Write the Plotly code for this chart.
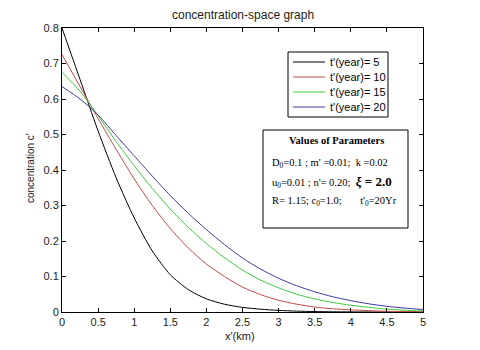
import plotly.graph_objects as go

# ---- data ----
x_km = [0, 0.25, 0.5, 0.75, 1.0, 1.25, 1.5, 1.75, 2.0, 2.25, 2.5, 2.75, 3.0,
        3.25, 3.5, 3.75, 4.0, 4.25, 4.5, 4.75, 5.0]
c_t5 = [0.80, 0.655, 0.51, 0.378, 0.265, 0.172, 0.105, 0.063, 0.037, 0.022, 0.013,
        0.008, 0.0045, 0.0025, 0.0012, 0.0006, 0.0003, 0.0001, 0.0, 0.0, 0.0]
c_t10 = [0.725, 0.635, 0.545, 0.458, 0.375, 0.300, 0.235, 0.180, 0.135, 0.100, 0.070,
         0.049, 0.033, 0.022, 0.014, 0.009, 0.006, 0.004, 0.002, 0.0012, 0.0008]
c_t15 = [0.675, 0.622, 0.553, 0.480, 0.412, 0.348, 0.290, 0.238, 0.193, 0.153, 0.118,
         0.090, 0.068, 0.050, 0.037, 0.027, 0.019, 0.013, 0.008, 0.005, 0.003]
c_t20 = [0.635, 0.600, 0.555, 0.497, 0.440, 0.383, 0.328, 0.278, 0.232, 0.190, 0.152,
         0.121, 0.095, 0.074, 0.057, 0.043, 0.032, 0.023, 0.016, 0.011, 0.007]
series_names = ["t'(year)= 5", "t'(year)= 10", "t'(year)= 15", "t'(year)= 20"]
series_colors = ["#000000", "#c84848", "#3ccc3c", "#3c3c9c"]
x_ticks = [0, 0.5, 1, 1.5, 2, 2.5, 3, 3.5, 4, 4.5, 5]
y_ticks = [0, 0.1, 0.2, 0.3, 0.4, 0.5, 0.6, 0.7, 0.8]

# window pixel layout (page body has an 8px margin)
BODY = 8
W, H = 480 - BODY, 350 - BODY
L, R, T, B = 62, 423, 28, 312
pw, ph = R - L, B - T


def px(xp):
    return (xp - L) / pw


def py(yp):
    return (B - yp) / ph


fig = go.Figure()
for ys, name, col in zip([c_t5, c_t10, c_t15, c_t20], series_names, series_colors):
    fig.add_trace(go.Scatter(x=x_km, y=ys, mode="lines", name=name, showlegend=False,
                             line=dict(color=col, width=1, shape="spline", smoothing=0.7)))

axis_common = dict(showline=True, linecolor="black", linewidth=1, mirror="allticks",
                   ticks="inside", ticklen=4, tickcolor="black", showgrid=False,
                   zeroline=False, tickfont=dict(family="Liberation Sans, Arial", size=11, color="#222"))

fig.update_layout(
    width=W, height=H,
    margin=dict(l=L - BODY, r=480 - R, t=T - BODY, b=350 - B, pad=0),
    paper_bgcolor="white", plot_bgcolor="white",
    xaxis=dict(range=[0, 5], tickvals=x_ticks, ticktext=[f"{v:g}" for v in x_ticks], **axis_common),
    yaxis=dict(range=[0, 0.8], tickvals=y_ticks, ticktext=[f"{v:g}" for v in y_ticks], **axis_common),
    showlegend=False,
)

fnt = dict(family="Liberation Sans, Arial", size=12, color="#222")
fig.add_annotation(text="concentration-space graph", x=px(243), y=py(15), xref="paper", yref="paper",
                   showarrow=False, font=fnt, xanchor="center", yanchor="middle")
fig.add_annotation(text="concentration c'", x=px(30), y=py(168), xref="paper", yref="paper",
                   showarrow=False, font=dict(fnt, size=10), textangle=-90,
                   xanchor="center", yanchor="middle")
fig.add_annotation(text="x'(km)", x=px(240), y=py(336), xref="paper", yref="paper",
                   showarrow=False, font=dict(fnt, size=11), xanchor="center", yanchor="middle")

# legend box (drawn manually to match the compact original)
fig.add_shape(type="rect", xref="paper", yref="paper", x0=px(288), x1=px(388), y0=py(117), y1=py(52),
              line=dict(color="black", width=1), fillcolor="white", layer="above")
leg_rows = [62, 77, 92, 107]
lfnt = dict(family="Liberation Sans, Arial", size=11, color="black")
for name, col, yy in zip(series_names, series_colors, leg_rows):
    fig.add_shape(type="line", xref="paper", yref="paper", x0=px(293), x1=px(325), y0=py(yy), y1=py(yy),
                  line=dict(color=col, width=1), layer="above")
    fig.add_annotation(text=name, x=px(328), y=py(yy), xref="paper", yref="paper",
                       showarrow=False, font=lfnt, xanchor="left", yanchor="middle")

# parameter box
fig.add_shape(type="rect", xref="paper", yref="paper", x0=px(263), x1=px(408), y0=py(228), y1=py(130),
              line=dict(color="black", width=1), fillcolor="white", layer="above")
sfnt = dict(family="Liberation Serif, Times New Roman", size=10.5, color="black")
fig.add_annotation(text="<b>Values of Parameters</b>", x=px(336), y=py(140), xref="paper", yref="paper",
                   showarrow=False, font=sfnt, xanchor="center", yanchor="middle")
param_lines = [
    ("D<sub>0</sub>=0.1 ; m' =0.01;  k =0.02", 163),
    ("u<sub>0</sub>=0.01 ; n'= 0.20;  <span style='font-size:13px'><b><i>ξ</i> = 2.0</b></span>", 182),
    ("R= 1.15; c<sub>0</sub>=1.0;       t'<sub>0</sub>=20Yr", 201),
]
for txt, yy in param_lines:
    fig.add_annotation(text=txt, x=px(270), y=py(yy), xref="paper", yref="paper",
                       showarrow=False, font=sfnt, xanchor="left", yanchor="middle")

fig.write_html("out.html")
